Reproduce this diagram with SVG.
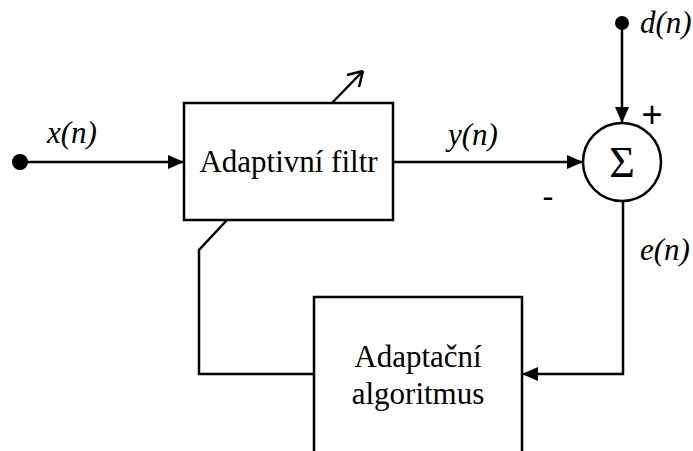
<svg xmlns="http://www.w3.org/2000/svg" width="693" height="451" viewBox="0 0 693 451">
<style>
.ln{fill:none;stroke:#000;stroke-width:2.5}
.bx{fill:#fff;stroke:#000;stroke-width:2.5}
</style>
<defs>
<marker id="ah" markerWidth="16" markerHeight="14" refX="16" refY="7" orient="auto" markerUnits="userSpaceOnUse">
<path d="M0,0 L16,7 L0,14 Z" fill="#000"/>
</marker>
</defs>
<rect width="693" height="451" fill="#fff"/>
<g id="connectors">
<path class="ln" d="M20,162 L184,162" marker-end="url(#ah)"/>
<path class="ln" d="M393,162 L583,162" marker-end="url(#ah)"/>
<path class="ln" d="M622,23 L622,123" marker-end="url(#ah)"/>
<path class="ln" d="M623,201 L623,374 L522,374" marker-end="url(#ah)"/>
<path class="ln" d="M314,374 L199,374 L199,250 L227,220"/>
<path class="ln" d="M332,103 L363,71 M363,71 L347,75 M363,71 L359,87"/>
<circle cx="20" cy="162" r="8"/>
<circle cx="622" cy="23" r="7"/>
</g>
<g font-family="'Liberation Serif', 'Times New Roman', serif" font-size="31" fill="#000">
<g id="filter">
<rect class="bx" x="184" y="103" width="209" height="117"/>
<text x="288.5" y="172" text-anchor="middle">Adaptivní filtr</text>
</g>
<g id="sum">
<circle class="bx" cx="622" cy="162" r="39"/>
<text x="622" y="177" text-anchor="middle" font-size="44">Σ</text>
</g>
<g id="algorithm">
<path class="bx" d="M314,460 L314,297 L522,297 L522,460"/>
<text x="418" y="367" text-anchor="middle">Adaptační</text>
<text x="418" y="404" text-anchor="middle">algoritmus</text>
</g>
<g id="labels" font-style="italic">
<text x="47" y="143">x(n)</text>
<text x="448" y="145">y(n)</text>
<text x="640" y="33">d(n)</text>
<text x="640" y="260">e(n)</text>
<text x="652" y="127" text-anchor="middle" font-style="normal" font-family="'Liberation Sans', sans-serif" font-size="36">+</text>
<text x="548" y="208" text-anchor="middle" font-style="normal" font-family="'Liberation Sans', sans-serif" font-size="34">-</text>
</g>
</g>
</svg>
